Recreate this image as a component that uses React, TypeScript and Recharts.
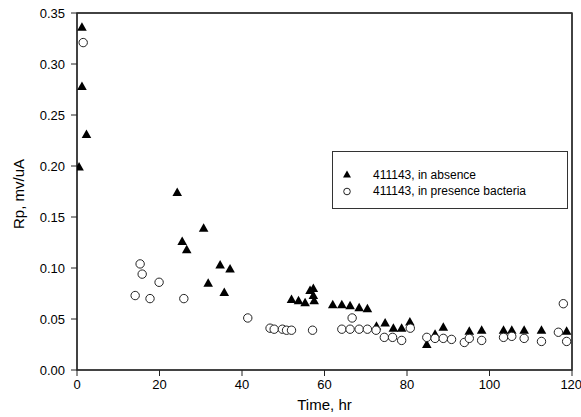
import React from 'react';
import { ScatterChart, Scatter, XAxis, YAxis, CartesianGrid, ReferenceArea } from 'recharts';

const absenceX = [0.5, 1.2, 1.2, 2.3, 24.3, 25.5, 26.6, 30.7, 31.8, 34.7, 35.7, 37.1, 52.0, 53.7, 55.3, 56.5, 57.3, 57.3, 57.5, 62.0, 64.2, 66.2, 68.4, 70.4, 72.6, 74.7, 76.7, 78.7, 80.7, 84.8, 86.8, 88.8, 95.1, 98.1, 103.4, 105.4, 108.4, 112.6, 118.7];
const absenceY = [0.199, 0.336, 0.278, 0.231, 0.174, 0.126, 0.118, 0.139, 0.085, 0.103, 0.076, 0.099, 0.069, 0.068, 0.066, 0.078, 0.080, 0.073, 0.068, 0.064, 0.064, 0.063, 0.061, 0.060, 0.043, 0.046, 0.041, 0.041, 0.047, 0.025, 0.035, 0.042, 0.038, 0.039, 0.039, 0.039, 0.039, 0.039, 0.038];

const presenceX = [1.5, 14.1, 15.3, 15.8, 17.7, 19.9, 25.9, 41.4, 46.8, 47.8, 49.8, 50.8, 52.0, 57.1, 64.2, 66.2, 66.7, 68.4, 70.4, 72.5, 74.5, 76.5, 78.7, 80.8, 84.8, 86.8, 88.8, 90.8, 93.9, 95.1, 98.1, 103.4, 105.4, 108.4, 112.6, 116.7, 117.9, 118.7];
const presenceY = [0.321, 0.073, 0.104, 0.094, 0.070, 0.086, 0.070, 0.051, 0.041, 0.040, 0.040, 0.039, 0.039, 0.039, 0.040, 0.040, 0.051, 0.040, 0.040, 0.039, 0.032, 0.032, 0.029, 0.041, 0.032, 0.031, 0.031, 0.030, 0.027, 0.031, 0.029, 0.032, 0.033, 0.031, 0.028, 0.037, 0.065, 0.028];

const xTicks = [0, 20, 40, 60, 80, 100, 120];
const yTicks = [0, 0.05, 0.1, 0.15, 0.2, 0.25, 0.3, 0.35];
const seriesNames = ['411143, in absence', '411143, in presence bacteria'];

const absenceData = absenceX.map((x, i) => ({ x, y: absenceY[i] }));
const presenceData = presenceX.map((x, i) => ({ x, y: presenceY[i] }));

const FONT = '"Liberation Sans", Arial, sans-serif';

const Triangle = (props: any) => {
  const { cx, cy } = props;
  if (cx == null || cy == null) return null;
  return <path d={`M${cx},${cy - 5} L${cx + 4.8},${cy + 3.5} L${cx - 4.8},${cy + 3.5} Z`} fill="#000" />;
};

const Circle = (props: any) => {
  const { cx, cy } = props;
  if (cx == null || cy == null) return null;
  return <circle cx={cx} cy={cy} r={4.2} fill="#fff" stroke="#222" strokeWidth={1} />;
};

const YTitle = () => (
  <text x={24} y={194} transform="rotate(-90 24 194)" textAnchor="middle" fill="#000" fontSize={15} fontFamily={FONT}>
    Rp, mv/uA
  </text>
);

const LegendBox = () => (
  <div style={{ position: 'absolute', left: 332, top: 151, width: 236, height: 58, border: '1px solid #333', boxSizing: 'border-box', background: '#fff', fontFamily: FONT, fontSize: 12, color: '#000' }}>
    <svg width={20} height={40} style={{ position: 'absolute', left: 5, top: 13 }}>
      <path d="M9,5.5 L13,12.5 L5,12.5 Z" fill="#000" />
      <circle cx={9} cy={26.5} r={3.3} fill="#fff" stroke="#222" strokeWidth={1} />
    </svg>
    <div style={{ position: 'absolute', left: 40, top: 15, lineHeight: '16px', whiteSpace: 'nowrap' }}>
      <div>{seriesNames[0]}</div>
      <div>{seriesNames[1]}</div>
    </div>
  </div>
);

export default function App() {
  return (
    <div style={{ position: 'absolute', left: 0, top: 0, width: 581, height: 417, background: '#fff' }}>
      <ScatterChart width={581} height={417} margin={{ top: 13, right: 9, bottom: 17, left: 17 }}>
        <CartesianGrid
          horizontalValues={[0.35]}
          verticalValues={[120]}
          stroke="#444"
          strokeWidth={1.5}
          strokeDasharray=""
        />
        <XAxis
          type="number"
          dataKey="x"
          domain={[0, 120]}
          ticks={xTicks}
          allowDataOverflow
          height={30}
          tickSize={6}
          tickMargin={4}
          stroke="#222"
          tick={{ fill: '#000', fontSize: 13, fontFamily: FONT }}
          label={{ value: 'Time, hr', position: 'bottom', offset: -1, fill: '#000', fontSize: 15, fontFamily: FONT }}
        />
        <YAxis
          type="number"
          dataKey="y"
          width={60}
          domain={[0, 0.35]}
          ticks={yTicks}
          allowDataOverflow
          tickSize={6}
          tickMargin={6}
          stroke="#222"
          tickFormatter={(v: number) => v.toFixed(2)}
          tick={{ fill: '#000', fontSize: 13, fontFamily: FONT }}
          label={{ content: YTitle }}
        />
        <ReferenceArea x1={0} x2={120} y1={0} y2={0.35} fill="none" fillOpacity={0} stroke="#333" strokeWidth={1.5} ifOverflow="visible" />
        <Scatter name={seriesNames[0]} data={absenceData} shape={<Triangle />} isAnimationActive={false} />
        <Scatter name={seriesNames[1]} data={presenceData} shape={<Circle />} isAnimationActive={false} />
      </ScatterChart>
      <LegendBox />
    </div>
  );
}
